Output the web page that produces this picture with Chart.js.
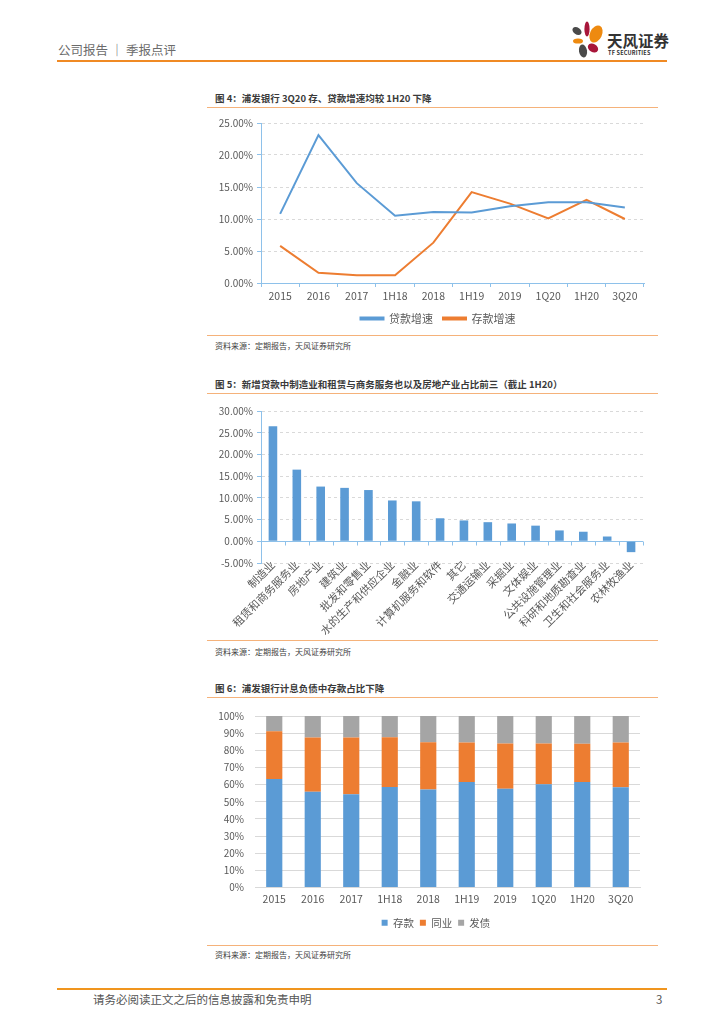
<!DOCTYPE html>
<html>
<head>
<meta charset="utf-8">
<script src="https://cdn.jsdelivr.net/npm/chart.js@4.4.0/dist/chart.umd.min.js"></script>
<style>
  body { margin: 0; background: #fff; font-family: "Noto Sans CJK SC", "Noto Sans", sans-serif; }
  #page { position: relative; width: 724px; height: 1024px; overflow: hidden; }
  .t { position: absolute; white-space: nowrap; }
  .title { font-size: 9.5px; line-height: 10px; font-weight: 700; color: #3a3a3a; left: 215px; }
  .src { font-size: 8px; line-height: 8px; color: #404040; left: 215px; }
  .ln { position: absolute; left: 207px; width: 451px; height: 1px; background: #f5b27a; }
  canvas { position: absolute; }
</style>
</head>
<body>
<div id="page">
  <!-- header -->
  <div class="t" style="left:58px;top:43px;font-size:12.5px;line-height:14px;color:#6b6b6b;">公司报告 ｜ 季报点评</div>
  <div style="position:absolute;left:57px;top:60px;width:610px;height:2px;background:#f08a24;"></div>
  <svg style="position:absolute;left:566px;top:20px;" width="40" height="40" viewBox="0 0 40 40">
    <ellipse cx="11" cy="11" rx="5" ry="3.5" transform="rotate(35 11 11)" fill="#4a4a4a"/>
    <ellipse cx="21" cy="9" rx="2.6" ry="7.5" fill="#a8163a"/>
    <ellipse cx="30" cy="14" rx="6" ry="9" transform="rotate(25 30 14)" fill="#ee8a10"/>
    <ellipse cx="12" cy="21" rx="5" ry="2.6" fill="#ee8a10"/>
    <ellipse cx="27" cy="28" rx="5.5" ry="4" transform="rotate(30 27 28)" fill="#a8163a"/>
    <ellipse cx="17" cy="31" rx="4" ry="6.5" transform="rotate(-10 17 31)" fill="#4a4a4a"/>
  </svg>
  <div class="t" style="left:607px;top:32px;font-size:15.5px;line-height:16px;font-weight:700;color:#333;">天风证券</div>
  <div class="t" style="left:608px;top:50px;font-size:5.5px;line-height:6px;font-weight:700;color:#333;letter-spacing:0.2px;">TF SECURITIES</div>

  <!-- figure 4 -->
  <div class="t title" style="top:93px;">图 4：浦发银行 3Q20 存、贷款增速均较 1H20 下降</div>
  <div class="ln" style="top:107px;"></div>
  <canvas id="growthChart" width="451" height="222" style="left:207px;top:112px;"></canvas>
  <div class="ln" style="top:335px;"></div>
  <div class="t src" style="top:342px;">资料来源：定期报告，天风证券研究所</div>

  <!-- figure 5 -->
  <div class="t title" style="top:379px;">图 5：新增贷款中制造业和租赁与商务服务也以及房地产业占比前三（截止 1H20）</div>
  <div class="ln" style="top:393px;"></div>
  <canvas id="industryChart" width="451" height="239" style="left:207px;top:400px;"></canvas>
  <div class="ln" style="top:640px;"></div>
  <div class="t src" style="top:648px;">资料来源：定期报告，天风证券研究所</div>

  <!-- figure 6 -->
  <div class="t title" style="top:683px;">图 6：浦发银行计息负债中存款占比下降</div>
  <div class="ln" style="top:697px;"></div>
  <canvas id="liabChart" width="451" height="232" style="left:207px;top:706px;"></canvas>
  <div class="ln" style="top:945px;"></div>
  <div class="t src" style="top:951px;">资料来源：定期报告，天风证券研究所</div>

  <!-- footer -->
  <div style="position:absolute;left:57px;top:988px;width:610px;height:2px;background:#f0951e;"></div>
  <div class="t" style="left:93px;top:993px;font-size:11.5px;line-height:12px;color:#555;">请务必阅读正文之后的信息披露和免责申明</div>
  <div class="t" style="left:656px;top:993px;font-size:11.5px;line-height:12px;color:#555;">3</div>
</div>

<script>
// Periods shared by figure 4 and 6
const periods = ['2015', '2016', '2017', '1H18', '2018', '1H19', '2019', '1Q20', '1H20', '3Q20'];

// Figure 4: loan / deposit growth (%)
const loanGrowth = [10.8, 23.1, 15.6, 10.5, 11.1, 11.0, 12.0, 12.6, 12.6, 11.8];
const depositGrowth = [5.8, 1.6, 1.2, 1.2, 6.3, 14.2, 12.4, 10.1, 13.0, 10.0];

// Figure 5: share of new loans by industry (%)
const industries = ['制造业', '租赁和商务服务业', '房地产业', '建筑业', '批发和零售业', '水的生产和供应企业',
    '金融业', '计算机服务和软件', '其它', '交通运输业', '采掘业', '文体娱业', '公共设施管理业',
    '科研和地质勘查业', '卫生和社会服务业', '农林牧渔业'];
const industryShare = [26.5, 16.5, 12.6, 12.3, 11.8, 9.4, 9.2, 5.3, 4.8, 4.4, 4.1, 3.6, 2.5, 2.2, 1.1, -2.5];

// Figure 6: interest-bearing liabilities mix (%)
const depositShare = [63.2, 55.9, 54.4, 58.6, 57.1, 61.5, 57.6, 60.2, 61.5, 58.4];
const interbankShare = [27.9, 31.5, 33.0, 29.0, 27.6, 23.0, 26.3, 23.7, 22.3, 26.1];
const bondShare = [8.9, 12.6, 12.6, 12.4, 15.3, 15.5, 16.1, 16.1, 16.2, 15.5];

const blue = '#5b9bd5';
const orange = '#ed7d31';
const grey = '#a5a5a5';
const axisBlue = '#8ec1ea';
const gridGrey = '#d9d9d9';
const textGrey = '#595959';
const fontFamily = '"Noto Sans CJK SC", "Noto Sans", sans-serif';

Chart.defaults.font.family = fontFamily;
Chart.defaults.color = textGrey;
Chart.defaults.animation = false;

// nudge the legend sideways (Excel centres it a bit right of the canvas middle)
const legendShift = {
    id: 'legendShift',
    afterLayout(c, args, opts) {
        if (c.legend && opts.dx) c.legend.left += opts.dx;
    }
};

// Figure 4
new Chart(document.getElementById('growthChart'), {
    type: 'line',
    data: {
        labels: periods,
        datasets: [
            { label: '贷款增速', data: loanGrowth, borderColor: blue, backgroundColor: blue, borderWidth: 2, pointRadius: 0, tension: 0 },
            { label: '存款增速', data: depositGrowth, borderColor: orange, backgroundColor: orange, borderWidth: 2, pointRadius: 0, tension: 0 }
        ]
    },
    options: {
        responsive: false,
        layout: { padding: { top: 11, right: 14, left: 0, bottom: 0 } },
        plugins: {
            legend: {
                position: 'bottom',
                labels: { boxWidth: 23, boxHeight: 2, padding: 10, font: { size: 11 }, color: textGrey }
            },
            legendShift: { dx: 25 },
            tooltip: { enabled: false }
        },
        scales: {
            x: {
                offset: true,
                grid: { offset: true, drawOnChartArea: false, color: axisBlue, tickLength: 4 },
                border: { color: axisBlue },
                ticks: { font: { size: 10.5 }, padding: 3 },
                afterFit: (s) => { s.height = 20; }
            },
            y: {
                min: 0, max: 25,
                grid: { color: gridGrey, tickColor: axisBlue, tickLength: 4 },
                border: { color: axisBlue, dash: [3, 3] },
                ticks: { stepSize: 5, font: { size: 10 }, padding: 4, callback: (v) => v.toFixed(2) + '%' },
                afterFit: (s) => { s.width = 54; }
            }
        }
    },
    plugins: [legendShift]
});

// zero line with category ticks for figure 5, labels allowed to start above the axis box
const zeroAxis = {
    id: 'zeroAxis',
    afterLayout(c) {
        c.scales.x._computeLabelArea = () => null;
    },
    beforeDatasetsDraw(c) {
        const { ctx, chartArea: a, scales: { x, y } } = c;
        const y0 = Math.round(y.getPixelForValue(0)) + 0.5;
        ctx.save();
        ctx.strokeStyle = axisBlue;
        ctx.lineWidth = 1;
        ctx.beginPath();
        ctx.moveTo(a.left, y0);
        ctx.lineTo(a.right, y0);
        for (let i = 0; i <= industries.length; i++) {
            const px = Math.round(x.getPixelForValue(i - 0.5)) + 0.5;
            ctx.moveTo(px, y0);
            ctx.lineTo(px, y0 + 4);
        }
        ctx.stroke();
        ctx.restore();
    }
};

// Figure 5
new Chart(document.getElementById('industryChart'), {
    type: 'bar',
    data: {
        labels: industries,
        datasets: [
            { data: industryShare, backgroundColor: blue, barPercentage: 0.36, categoryPercentage: 1 }
        ]
    },
    options: {
        responsive: false,
        layout: { padding: { top: 11, right: 15, left: 0, bottom: 0 } },
        plugins: { legend: { display: false }, tooltip: { enabled: false } },
        scales: {
            x: {
                grid: { display: false, drawTicks: false },
                border: { display: false },
                ticks: { font: { size: 11 }, minRotation: 45, maxRotation: 45, padding: -5, autoSkip: false },
                afterFit: (s) => { s.height = 76; }
            },
            y: {
                min: -5, max: 30,
                grid: { color: gridGrey, tickColor: axisBlue, tickLength: 4 },
                border: { color: axisBlue, dash: [3, 3] },
                ticks: { stepSize: 5, font: { size: 10 }, padding: 4, callback: (v) => v.toFixed(2) + '%' },
                afterFit: (s) => { s.width = 54; }
            }
        }
    },
    plugins: [zeroAxis]
});

// Figure 6
new Chart(document.getElementById('liabChart'), {
    type: 'bar',
    data: {
        labels: periods,
        datasets: [
            { label: '存款', data: depositShare, backgroundColor: blue, barPercentage: 0.42, categoryPercentage: 1 },
            { label: '同业', data: interbankShare, backgroundColor: orange, barPercentage: 0.42, categoryPercentage: 1 },
            { label: '发债', data: bondShare, backgroundColor: grey, barPercentage: 0.42, categoryPercentage: 1 }
        ]
    },
    options: {
        responsive: false,
        layout: { padding: { top: 10, right: 18, left: 0, bottom: 0 } },
        plugins: {
            legend: {
                position: 'bottom',
                labels: { boxWidth: 6, boxHeight: 6, padding: 6, font: { size: 10.5 }, color: textGrey }
            },
            legendShift: { dx: 25 },
            tooltip: { enabled: false }
        },
        scales: {
            x: {
                stacked: true,
                grid: { display: false, drawTicks: false },
                border: { color: gridGrey },
                ticks: { font: { size: 10.5 }, padding: 5 },
                afterFit: (s) => { s.height = 24; }
            },
            y: {
                stacked: true,
                min: 0, max: 100,
                grid: { color: gridGrey, tickColor: 'rgba(0,0,0,0)', tickLength: 7 },
                border: { display: false },
                ticks: { stepSize: 10, font: { size: 10 }, padding: 4, callback: (v) => v + '%' },
                afterFit: (s) => { s.width = 48; }
            }
        }
    },
    plugins: [legendShift]
});
</script>
</body>
</html>
